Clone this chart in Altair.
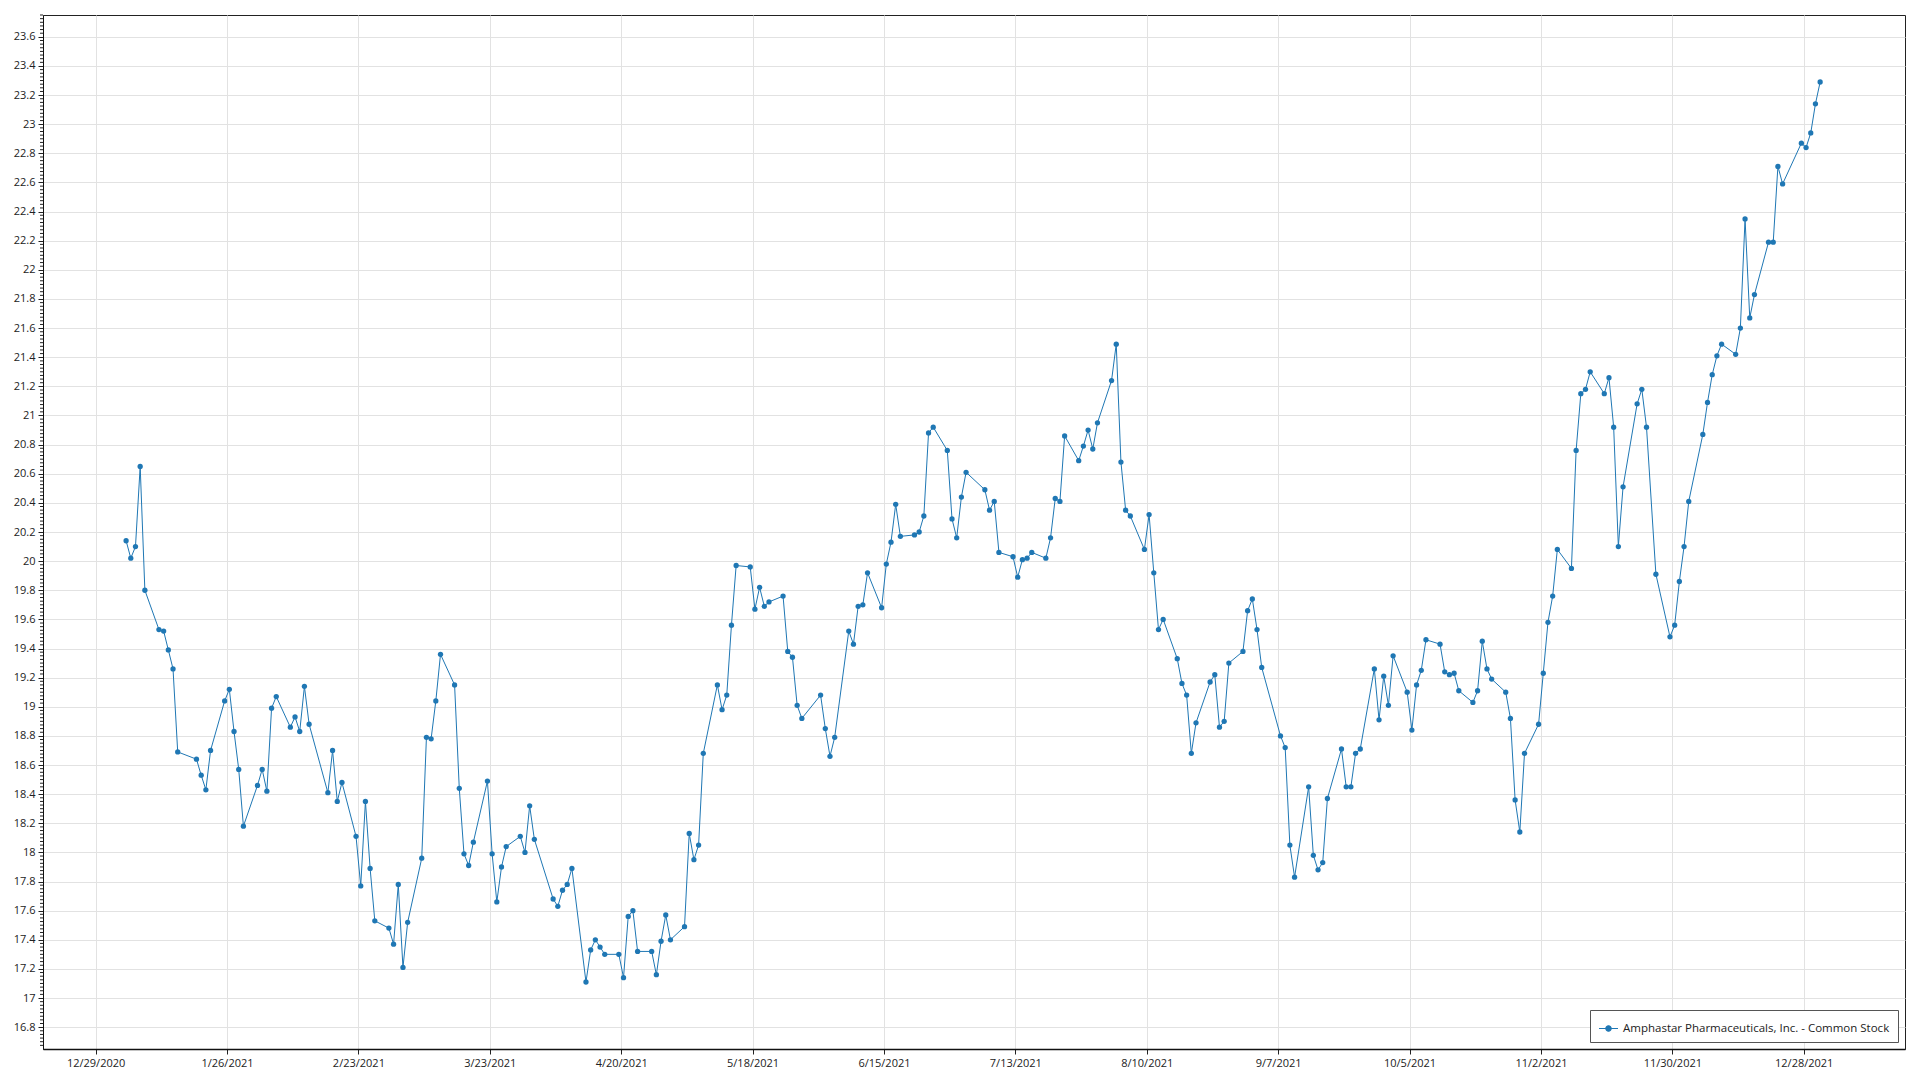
import altair as alt
import pandas as pd

SERIES = "Amphastar Pharmaceuticals, Inc. - Common Stock"
YEAR = 2021

jan_days = [4, 5, 6, 7, 8, 11, 12, 13, 14, 15, 19, 20, 21, 22, 25, 26, 27, 28, 29]
jan_close = [20.14, 20.02, 20.10, 20.65, 19.80, 19.53, 19.52, 19.39, 19.26, 18.69, 18.64, 18.53, 18.43, 18.70, 19.04, 19.12, 18.83, 18.57, 18.18]
feb_days = [1, 2, 3, 4, 5, 8, 9, 10, 11, 12, 16, 17, 18, 19, 22, 23, 24, 25, 26]
feb_close = [18.46, 18.57, 18.42, 18.99, 19.07, 18.86, 18.93, 18.83, 19.14, 18.88, 18.41, 18.70, 18.35, 18.48, 18.11, 17.77, 18.35, 17.89, 17.53]
mar_days = [1, 2, 3, 4, 5, 8, 9, 10, 11, 12, 15, 16, 17, 18, 19, 22, 23, 24, 25, 26, 29, 30, 31]
mar_close = [17.48, 17.37, 17.78, 17.21, 17.52, 17.96, 18.79, 18.78, 19.04, 19.36, 19.15, 18.44, 17.99, 17.91, 18.07, 18.49, 17.99, 17.66, 17.90, 18.04, 18.11, 18.00, 18.32]
apr_days = [1, 5, 6, 7, 8, 9, 12, 13, 14, 15, 16, 19, 20, 21, 22, 23, 26, 27, 28, 29, 30]
apr_close = [18.09, 17.68, 17.63, 17.74, 17.78, 17.89, 17.11, 17.33, 17.40, 17.35, 17.30, 17.30, 17.14, 17.56, 17.60, 17.32, 17.32, 17.16, 17.39, 17.57, 17.40]
may_days = [3, 4, 5, 6, 7, 10, 11, 12, 13, 14, 17, 18, 19, 20, 21, 24, 25, 26, 27, 28]
may_close = [17.49, 18.13, 17.95, 18.05, 18.68, 19.15, 18.98, 19.08, 19.56, 19.97, 19.96, 19.67, 19.82, 19.69, 19.72, 19.76, 19.38, 19.34, 19.01, 18.92]
jun_days = [1, 2, 3, 4, 7, 8, 9, 10, 11, 14, 15, 16, 17, 18, 21, 22, 23, 24, 25, 28, 29, 30]
jun_close = [19.08, 18.85, 18.66, 18.79, 19.52, 19.43, 19.69, 19.70, 19.92, 19.68, 19.98, 20.13, 20.39, 20.17, 20.18, 20.20, 20.31, 20.88, 20.92, 20.76, 20.29, 20.16]
jul_days = [1, 2, 6, 7, 8, 9, 12, 13, 14, 15, 16, 19, 20, 21, 22, 23, 26, 27, 28, 29, 30]
jul_close = [20.44, 20.61, 20.49, 20.35, 20.41, 20.06, 20.03, 19.89, 20.01, 20.02, 20.06, 20.02, 20.16, 20.43, 20.41, 20.86, 20.69, 20.79, 20.90, 20.77, 20.95]
aug_days = [2, 3, 4, 5, 6, 9, 10, 11, 12, 13, 16, 17, 18, 19, 20, 23, 24, 25, 26, 27, 30, 31]
aug_close = [21.24, 21.49, 20.68, 20.35, 20.31, 20.08, 20.32, 19.92, 19.53, 19.60, 19.33, 19.16, 19.08, 18.68, 18.89, 19.17, 19.22, 18.86, 18.90, 19.30, 19.38, 19.66]
sep_days = [1, 2, 3, 7, 8, 9, 10, 13, 14, 15, 16, 17, 20, 21, 22, 23, 24, 27, 28, 29, 30]
sep_close = [19.74, 19.53, 19.27, 18.80, 18.72, 18.05, 17.83, 18.45, 17.98, 17.88, 17.93, 18.37, 18.71, 18.45, 18.45, 18.68, 18.71, 19.26, 18.91, 19.21, 19.01]
oct_days = [1, 4, 5, 6, 7, 8, 11, 12, 13, 14, 15, 18, 19, 20, 21, 22, 25, 26, 27, 28, 29]
oct_close = [19.35, 19.10, 18.84, 19.15, 19.25, 19.46, 19.43, 19.24, 19.22, 19.23, 19.11, 19.03, 19.11, 19.45, 19.26, 19.19, 19.10, 18.92, 18.36, 18.14, 18.68]
nov_days = [1, 2, 3, 4, 5, 8, 9, 10, 11, 12, 15, 16, 17, 18, 19, 22, 23, 24, 26, 29, 30]
nov_close = [18.88, 19.23, 19.58, 19.76, 20.08, 19.95, 20.76, 21.15, 21.18, 21.30, 21.15, 21.26, 20.92, 20.10, 20.51, 21.08, 21.18, 20.92, 19.91, 19.48, 19.56]
dec_days = [1, 2, 3, 6, 7, 8, 9, 10, 13, 14, 15, 16, 17, 20, 21, 22, 23, 27, 28, 29, 30, 31]
dec_close = [19.86, 20.10, 20.41, 20.87, 21.09, 21.28, 21.41, 21.49, 21.42, 21.60, 22.35, 21.67, 21.83, 22.19, 22.19, 22.71, 22.59, 22.87, 22.84, 22.94, 23.14, 23.29]

# x tick labels (every 4 weeks) and y tick labels
x_tick_dates = [(2020, 12, 29), (2021, 1, 26), (2021, 2, 23), (2021, 3, 23), (2021, 4, 20),
                (2021, 5, 18), (2021, 6, 15), (2021, 7, 13), (2021, 8, 10), (2021, 9, 7),
                (2021, 10, 5), (2021, 11, 2), (2021, 11, 30), (2021, 12, 28)]
y_ticks = [16.8, 17.0, 17.2, 17.4, 17.6, 17.8, 18.0, 18.2, 18.4, 18.6, 18.8, 19.0, 19.2, 19.4,
           19.6, 19.8, 20.0, 20.2, 20.4, 20.6, 20.8, 21.0, 21.2, 21.4, 21.6, 21.8, 22.0, 22.2,
           22.4, 22.6, 22.8, 23.0, 23.2, 23.4, 23.6]
minor_step = 0.025  # minor tick spacing on the value axis

months = [(1, jan_days, jan_close), (2, feb_days, feb_close), (3, mar_days, mar_close),
          (4, apr_days, apr_close), (5, may_days, may_close), (6, jun_days, jun_close),
          (7, jul_days, jul_close), (8, aug_days, aug_close), (9, sep_days, sep_close),
          (10, oct_days, oct_close), (11, nov_days, nov_close), (12, dec_days, dec_close)]

rows = []
for m, days, closes in months:
    for d, c in zip(days, closes):
        rows.append({"date": f"{YEAR}-{m:02d}-{d:02d}T12:00:00Z", "close": c, "series": SERIES})
df = pd.DataFrame(rows)

Y_MIN, Y_MAX = 16.65, 23.75
minor_vals = []
k = 0
while True:
    t = round(16.675 + k * minor_step, 4)
    if t > Y_MAX:
        break
    if all(abs(t - y) > 1e-6 for y in y_ticks):
        minor_vals.append(t)
    k += 1
minor_df = pd.DataFrame({"close": minor_vals})

BLUE = "#1f77b4"
FONT = "Open Sans"

x_enc = alt.X(
    "date:T",
    scale=alt.Scale(type="utc",
                    domain=[alt.DateTime(year=2020, month=12, date=17, hours=19, utc=True),
                            alt.DateTime(year=2022, month=1, date=18, hours=14, utc=True)]),
    axis=alt.Axis(
        values=[alt.DateTime(year=y, month=m, date=d, utc=True) for y, m, d in x_tick_dates],
        format="%-m/%-d/%Y", title=None, grid=True, gridColor="#e2e2e2",
        tickSize=5, tickColor="#222", domainColor="#111", domainWidth=1.5,
        labelFont=FONT, labelFontSize=11, labelColor="#222", labelPadding=3,
        labelFlush=False, labelOverlap=False),
)
y_axis = alt.Axis(
    values=y_ticks, format=".1~f", title=None, grid=True, gridColor="#e2e2e2",
    tickSize=5, tickColor="#222", domainColor="#111",
    labelFont=FONT, labelFontSize=11, labelColor="#222", labelPadding=3,
    labelFlush=False, labelOverlap=False)
y_scale = alt.Scale(domain=[Y_MIN, Y_MAX], nice=False, zero=False)
y_enc = alt.Y("close:Q", scale=y_scale, axis=y_axis)

legend_symbol = "M-1,0L1,0M-0.28,0A0.28,0.28,0,1,1,0.28,0A0.28,0.28,0,1,1,-0.28,0Z"

line = alt.Chart(df).mark_line(strokeWidth=1).encode(
    x=x_enc, y=y_enc,
    color=alt.Color("series:N", scale=alt.Scale(range=[BLUE]),
                    legend=alt.Legend(
                        title=None, orient="bottom-right", offset=7, padding=8,
                        strokeColor="#555", fillColor="white", cornerRadius=0,
                        labelFont=FONT, labelFontSize=11.5, labelColor="#222", labelLimit=0,
                        symbolType=legend_symbol, symbolSize=361, symbolStrokeWidth=1.2,
                        symbolFillColor=BLUE, symbolStrokeColor=BLUE, symbolOpacity=1)),
)
points = alt.Chart(df).mark_circle(size=28, color=BLUE, opacity=1).encode(x=x_enc, y=y_enc)

minor_ticks = alt.Chart(minor_df).mark_rule(color="#222", strokeWidth=1).encode(
    y=y_enc, x=alt.value(-3), x2=alt.value(0))

chart = alt.layer(minor_ticks, line, points).properties(
    width=1862, height=1034,
    autosize=alt.AutoSizeParams(type="none"),
    padding={"left": 35, "top": 7, "right": 5, "bottom": 25},
).configure_view(stroke="#222", strokeWidth=1)

chart.save("out.html", embed_options={"renderer": "svg", "actions": False})
